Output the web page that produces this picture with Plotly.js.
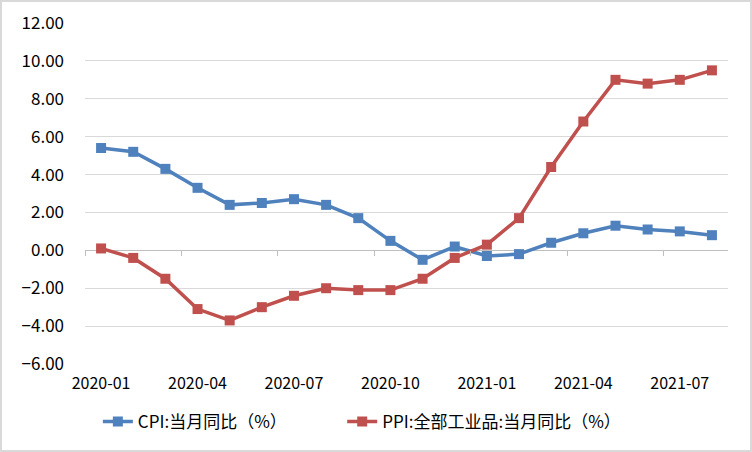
<!DOCTYPE html>
<html>
<head>
<meta charset="utf-8">
<script src="https://cdn.plot.ly/plotly-3.0.1.min.js"></script>
<style>
html,body{margin:0;padding:0;background:#fff;}
#chart{width:748px;height:448px;border:2px solid #d9d9d9;}
</style>
</head>
<body>
<div id="chart"></div>
<script>
const months = ["2020-01","2020-02","2020-03","2020-04","2020-05","2020-06","2020-07","2020-08","2020-09","2020-10","2020-11","2020-12",
"2021-01","2021-02","2021-03","2021-04","2021-05","2021-06","2021-07","2021-08"];
const cpi = [5.4,5.2,4.3,3.3,2.4,2.5,2.7,2.4,1.7,0.5,-0.5,0.2,-0.3,-0.2,0.4,0.9,1.3,1.1,1.0,0.8];
const ppi = [0.1,-0.4,-1.5,-3.1,-3.7,-3.0,-2.4,-2.0,-2.1,-2.1,-1.5,-0.4,0.3,1.7,4.4,6.8,9.0,8.8,9.0,9.5];
const xTickLabels = ["2020-01","2020-04","2020-07","2020-10","2021-01","2021-04","2021-07"];
const cpiName = "CPI:当月同比（%）";
const ppiName = "PPI:全部工业品:当月同比（%）";

const font = "'Noto Sans CJK SC', 'Noto Sans', sans-serif";
const traces = [
  {x: months, y: cpi, name: cpiName, type: "scatter", mode: "lines+markers", legend: "legend",
   line: {color: "#4f81bd", width: 3.5}, marker: {symbol: "square", size: 10, color: "#4f81bd"}},
  {x: months, y: ppi, name: ppiName, type: "scatter", mode: "lines+markers", legend: "legend2",
   line: {color: "#c0504d", width: 3.5}, marker: {symbol: "square", size: 10, color: "#c0504d"}},
  {x: months.map((m, i) => i), y: cpi, xaxis: "x2", type: "scatter", mode: "lines",
   opacity: 0, showlegend: false, hoverinfo: "skip", line: {width: 0}}
];
const legFont = {family: font, size: 17, color: "#000"};
const layout = {
  width: 748, height: 448,
  margin: {l: 83, r: 22, t: 21, b: 86, autoexpand: false},
  paper_bgcolor: "#ffffff", plot_bgcolor: "#ffffff",
  font: {family: font, size: 16, color: "#000"},
  showlegend: true,
  legend: {orientation: "h", x: 0.02, xanchor: "left", y: -0.17, yanchor: "middle", font: legFont},
  legend2: {orientation: "h", x: 0.40, xanchor: "left", y: -0.17, yanchor: "middle", font: legFont},
  xaxis: {type: "category", tickmode: "array", tickvals: xTickLabels, ticktext: xTickLabels,
          range: [-0.5, months.length - 0.5], showgrid: false, zeroline: false, showline: false,
          ticks: "", ticklabelstandoff: 8, tickfont: {family: font, size: 16, color: "#000"}},
  xaxis2: {overlaying: "x", anchor: "free", position: 1/3, range: [-0.5, months.length - 0.5],
           tickmode: "array", tickvals: [-0.5, 2.5, 5.5, 8.5, 11.5, 14.5, 17.5],
           ticks: "outside", ticklen: 5, tickcolor: "#bfbfbf", tickwidth: 1,
           showticklabels: false, showgrid: false, zeroline: false, showline: false, fixedrange: true},
  yaxis: {range: [-6, 12], tickmode: "linear", tick0: -6, dtick: 2, tickformat: ".2f",
          showgrid: true, gridcolor: "#d9d9d9", gridwidth: 1, zeroline: true, zerolinecolor: "#bfbfbf",
          zerolinewidth: 1, showline: false, ticks: "", ticklabelstandoff: 20,
          tickfont: {family: font, size: 17, color: "#000"}}
};
Plotly.newPlot("chart", traces, layout, {displayModeBar: false, staticPlot: true});
</script>
</body>
</html>
